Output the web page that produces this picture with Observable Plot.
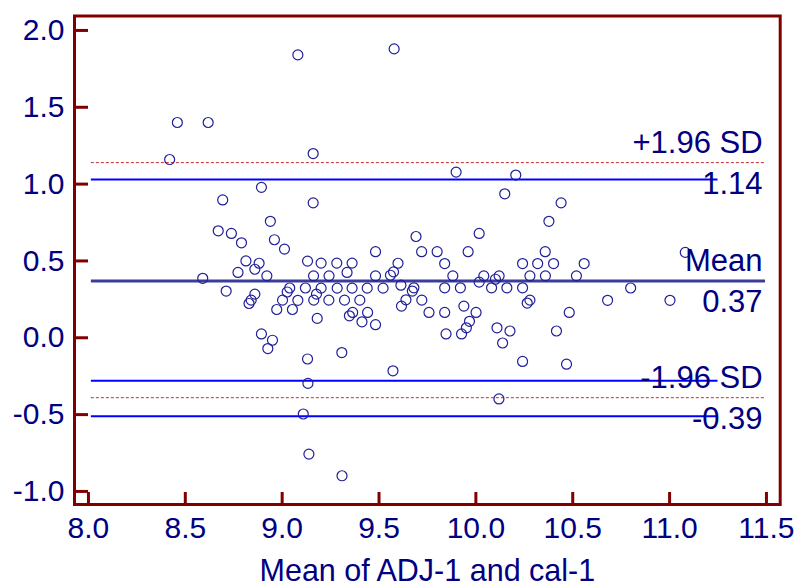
<!DOCTYPE html>
<html><head><meta charset="utf-8">
<script src="https://cdn.jsdelivr.net/npm/d3@7"></script>
<script src="https://cdn.jsdelivr.net/npm/@observablehq/plot@0.6"></script>
<style>html,body{margin:0;padding:0;background:#fff;overflow:hidden;} #chart{width:797px;height:585px;}</style>
</head><body><div id="chart"></div>
<script>
// Mean of the two methods (x) and their difference (y)
const meanValues = [
  9.081, 9.578, 8.459, 8.618, 8.419, 9.160, 8.893, 8.693, 9.160, 8.939,
  9.898, 10.206, 10.149, 10.440, 10.377, 8.670, 8.738, 8.790, 8.960, 9.012,
  9.482, 8.813, 8.881, 8.859, 8.772, 8.921, 8.590, 9.131, 8.711, 8.859,
  8.840, 8.829, 9.039, 9.026, 9.002, 9.081, 8.972, 9.053, 9.120, 8.893,
  8.950, 8.926, 9.131, 9.308, 9.572, 9.133, 9.109, 9.138, 9.309, 9.163,
  9.177, 9.181, 9.201, 9.241, 9.284, 9.322, 9.361, 9.401, 9.347, 9.364,
  9.412, 9.441, 9.439, 9.482, 9.521, 9.691, 9.720, 9.201, 9.282, 9.361,
  9.598, 9.335, 9.575, 9.559, 9.482, 9.162, 9.242, 9.613, 9.680, 9.672,
  9.639, 9.721, 9.616, 9.758, 10.017, 9.800, 9.960, 10.358, 9.839, 10.241,
  10.319, 10.401, 9.881, 10.041, 10.120, 10.101, 10.017, 10.279, 10.359, 9.839,
  9.920, 10.081, 10.160, 10.241, 9.839, 9.938, 10.001, 9.967, 9.951, 9.926,
  9.846, 10.265, 10.279, 10.109, 10.176, 10.138, 10.241, 10.559, 10.519, 10.799,
  10.680, 11.002, 10.482, 10.416, 10.468, 11.081, 10.119
];
const diffValues = [
  1.841, 1.880, 1.401, 1.401, 1.160, 1.199, 0.979, 0.897, 0.878, 0.758,
  1.078, 1.059, 0.937, 0.878, 0.758, 0.696, 0.679, 0.618, 0.638, 0.577,
  0.560, 0.500, 0.485, 0.446, 0.425, 0.403, 0.387, 0.499, 0.304, 0.284,
  0.245, 0.223, 0.324, 0.298, 0.245, 0.244, 0.184, 0.184, 0.324, 0.025,
  -0.016, -0.070, -0.138, -0.096, -0.215, -0.297, -0.496, -0.757, -0.898, 0.245,
  0.284, 0.126, 0.323, 0.245, 0.323, 0.245, 0.323, 0.245, 0.143, 0.165,
  0.104, 0.165, 0.323, 0.085, 0.323, 0.659, 0.560, 0.486, 0.486, 0.486,
  0.485, 0.425, 0.429, 0.407, 0.403, 0.403, 0.403, 0.342, 0.325, 0.304,
  0.247, 0.245, 0.206, 0.165, 0.679, 0.560, 0.560, 0.560, 0.483, 0.483,
  0.483, 0.483, 0.403, 0.403, 0.403, 0.381, 0.362, 0.403, 0.403, 0.325,
  0.325, 0.325, 0.325, 0.325, 0.165, 0.206, 0.165, 0.107, 0.065, 0.025,
  0.025, 0.226, 0.245, 0.065, 0.044, -0.034, -0.154, 0.483, 0.403, 0.324,
  0.244, 0.244, 0.165, 0.044, -0.172, 0.556, -0.398
];
const xTicks = [8.0, 8.5, 9.0, 9.5, 10.0, 10.5, 11.0, 11.5];
const yTicks = [-1.0, -0.5, 0.0, 0.5, 1.0, 1.5, 2.0];
const limitNames = ["+1.96 SD", "Mean", "-1.96 SD"];
const limitValues = [1.14, 0.37, -0.39];
const ciValues = [1.03, -0.28, -0.51];
const xLabel = "Mean of ADJ-1 and cal-1";

const points = meanValues.map((x, i) => ({x, y: diffValues[i]}));

const W = 797, H = 585;
const mL = 74, mR = 17.3, mT = 15.5, mB = 81;
const xDomain = [7.928, 11.571];
const yDomain = [-1.085, 2.094];
const pxPerX = (W - mL - mR) / (xDomain[1] - xDomain[0]);
const pxPerY = (H - mT - mB) / (yDomain[1] - yDomain[0]);
const lineStart = 8.015, lineEnd = 11.495, ciEnd = 11.25, labelX = 11.48;
const navy = "#000080", frameColor = "#800000";
const fmt1 = d => d.toFixed(1);

const chart = Plot.plot({
  width: W, height: H,
  marginLeft: mL, marginRight: mR, marginTop: mT, marginBottom: mB,
  style: {fontFamily: "'Liberation Sans', Arial, sans-serif", fontSize: "30px", color: navy, background: "#fff", overflow: "visible"},
  x: {domain: xDomain, ticks: xTicks, tickSize: 0, tickPadding: 12, tickFormat: fmt1, label: null},
  y: {domain: yDomain, ticks: yTicks, tickSize: 0, tickPadding: 10, tickFormat: fmt1, label: null},
  marks: [
    Plot.ruleY(ciValues, {y: d => d, x1: lineStart, x2: ciEnd, stroke: "#0000ff", strokeWidth: 2}),
    Plot.ruleY([limitValues[0], limitValues[2]], {y: d => d, x1: lineStart, x2: lineEnd, stroke: "#c03030", strokeWidth: 1, strokeDasharray: "3,2"}),
    Plot.ruleY([limitValues[1]], {y: d => d, x1: lineStart, x2: lineEnd, stroke: "#3c3c9c", strokeWidth: 3}),
    Plot.dot(points, {x: "x", y: "y", r: 5, stroke: "#1f1f99", strokeWidth: 1.2, fill: "none"}),
    Plot.text(limitNames, {x: () => labelX, y: (d, i) => limitValues[i], text: d => d, textAnchor: "end", lineAnchor: "bottom", dy: -9.5, fontSize: 31, fill: navy}),
    Plot.text(limitValues, {x: () => labelX, y: d => d, text: d => d.toFixed(2), textAnchor: "end", lineAnchor: "bottom", dy: 31, fontSize: 31, fill: navy}),
    Plot.text([xLabel], {frameAnchor: "bottom", text: d => d, lineAnchor: "bottom", dy: 76, fontSize: 30.5, fill: navy}),
    Plot.ruleY(yTicks, {y: d => d, x1: xDomain[0], x2: xDomain[0] + 14 / pxPerX, stroke: frameColor, strokeWidth: 3}),
    Plot.ruleX(xTicks, {x: d => d, y1: yDomain[0], y2: yDomain[0] + 12 / pxPerY, stroke: frameColor, strokeWidth: 3}),
    Plot.frame({stroke: frameColor, strokeWidth: 3})
  ]
});
document.getElementById("chart").appendChild(chart);
</script>
</body></html>
